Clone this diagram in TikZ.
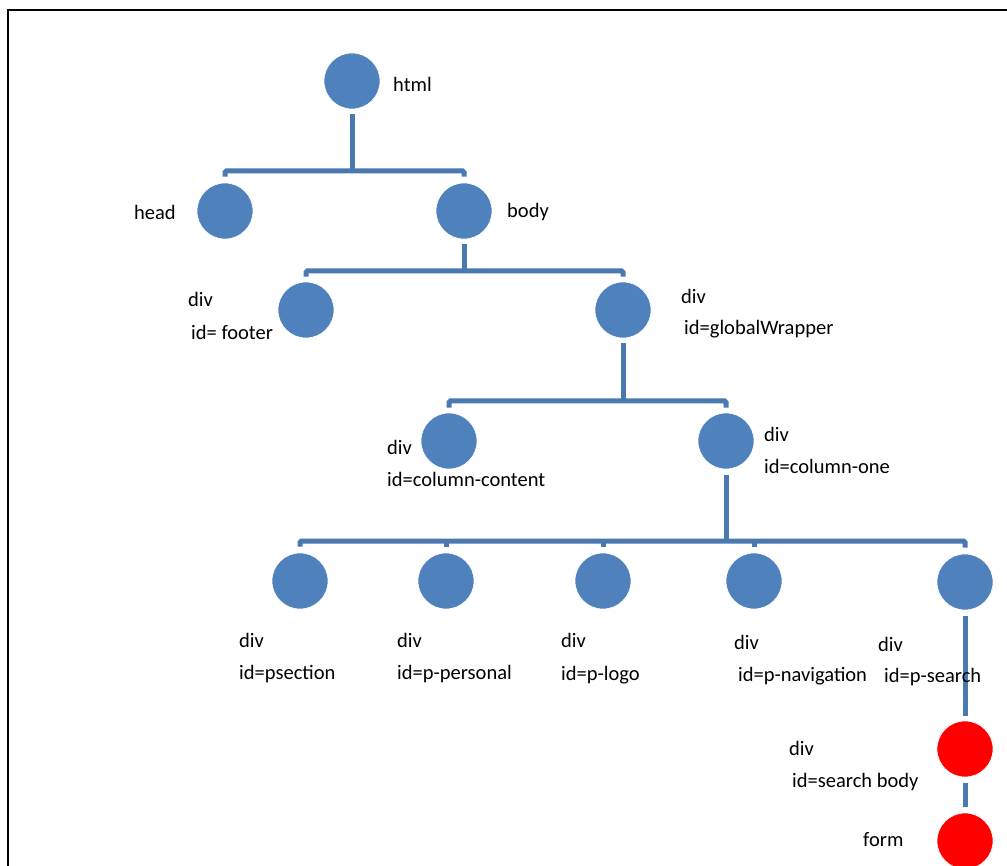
\documentclass[tikz,border=0pt]{standalone}
\usepackage{fontspec}
\setmainfont{Carlito}
\definecolor{nodeblue}{HTML}{4F81BD}
\definecolor{lineblue}{HTML}{4A78B0}
\definecolor{nodered}{HTML}{FF0000}
\begin{document}
\begin{tikzpicture}[x=1pt,y=-1pt,
  tn/.style={circle,minimum size=56pt,inner sep=0pt,fill=nodeblue,draw=white,line width=0.6pt},
  rn/.style={tn,fill=nodered},
  conn/.style={draw=lineblue,line width=5pt,rounded corners=1.5pt},
  lbl/.style={anchor=base west,inner sep=0pt,font=\fontsize{20.5}{24}\selectfont},
  frame/.style={draw=black,line width=2.5pt}]
\useasboundingbox (0,0) rectangle (1007,866);
\draw[frame] (8,866) -- (8,10) -- (1007,10);
% nodes
\node[tn] (html) at (352,81) {};
\node[tn] (head) at (225,211) {};
\node[tn] (body) at (464,211) {};
\node[tn] (footer) at (306,310) {};
\node[tn] (gw) at (623,310) {};
\node[tn] (cc) at (449,441) {};
\node[tn] (c1) at (726,441) {};
\node[tn] (ps) at (300,581) {};
\node[tn] (pp) at (446,581) {};
\node[tn] (pl) at (603,581) {};
\node[tn] (pn) at (754,581) {};
\node[tn] (pse) at (965,582) {};
\node[rn] (sb) at (965,749) {};
\node[rn] (form) at (965,841) {};
% bar coordinates
\coordinate (b1) at (352,171);
\coordinate (b2) at (464,271);
\coordinate (b3) at (623,401);
\coordinate (b4) at (726,541);
% connectors
\draw[conn] ([yshift=-5pt]html.south) -- (b1);
\draw[conn] ([yshift=6pt]head.north) -- (head.north |- b1) -- (body.north |- b1) -- ([yshift=6pt]body.north);
\draw[conn] ([yshift=-5pt]body.south) -- (b2);
\draw[conn] ([yshift=5pt]footer.north) -- (footer.north |- b2) -- (gw.north |- b2) -- ([yshift=5pt]gw.north);
\draw[conn] ([yshift=-5pt]gw.south) -- (b3);
\draw[conn] ([yshift=5pt]cc.north) -- (cc.north |- b3) -- (c1.north |- b3) -- ([yshift=5pt]c1.north);
\draw[conn] ([yshift=-6pt]c1.south) -- (b4);
\draw[conn] ([yshift=6pt]ps.north) -- (ps.north |- b4) -- (pse.north |- b4) -- ([yshift=6pt]pse.north);
\draw[conn] ([yshift=6pt]pp.north) -- (pp.north |- b4);
\draw[conn] ([yshift=6pt]pl.north) -- (pl.north |- b4);
\draw[conn] ([yshift=6pt]pn.north) -- (pn.north |- b4);
\draw[conn] ([yshift=-6pt]pse.south) -- ([yshift=5pt]sb.north);
\draw[conn] ([yshift=-6pt]sb.south) -- ([yshift=6pt]form.north);
% labels
\node[lbl] (lhtml) at (393,92) {html};
\node[lbl] (lhead) at (134,220) {head};
\node[lbl] (lbody) at (507,218) {body};
\node[lbl] (lfa) at (188,307) {div};
\node[lbl] (lfb) at (191,340) {id= footer};
\node[lbl] (lga) at (681,304) {div};
\node[lbl] (lgb) at (684,335) {id=globalWrapper};
\node[lbl] (lcca) at (387,454) {div};
\node[lbl] (lccb) at (387,486) {id=column-content};
\node[lbl] (lc1a) at (764,442) {div};
\node[lbl] (lc1b) at (764,473) {id=column-one};
\node[lbl] (lpsa) at (239,647) {div};
\node[lbl] (lpsb) at (239,679) {id=psection};
\node[lbl] (lppa) at (397,647) {div};
\node[lbl] (lppb) at (397,679) {id=p-personal};
\node[lbl] (lpla) at (561,647) {div};
\node[lbl] (lplb) at (561,680) {id=p-logo};
\node[lbl] (lpna) at (734,649) {div};
\node[lbl] (lpnb) at (738,681) {id=p-navigation};
\node[lbl] (lpsea) at (878,651) {div};
\node[lbl] (lpseb) at (884,682) {id=p-search};
\node[lbl] (lsba) at (789,755) {div};
\node[lbl] (lsbb) at (792,787) {id=search body};
\node[lbl] (lform) at (863,846) {form};
\end{tikzpicture}
\end{document}
